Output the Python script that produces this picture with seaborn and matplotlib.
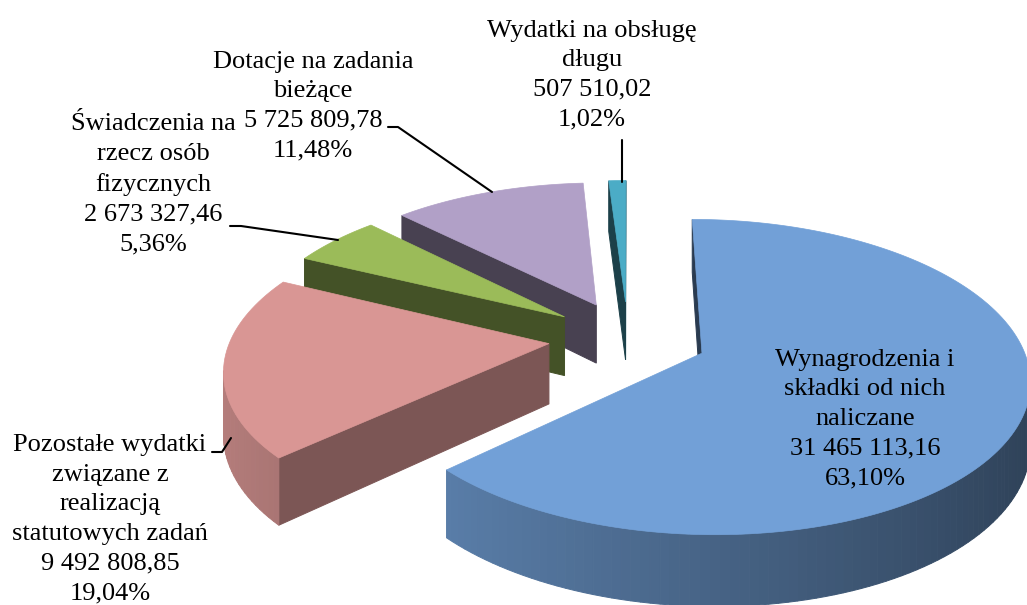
import numpy as np
import matplotlib
matplotlib.use("Agg")
import matplotlib.pyplot as plt
import seaborn as sns
from matplotlib.patches import Polygon
from matplotlib.colors import to_rgb

# dane
categories = [
    "Wynagrodzenia i\nskładki od nich\nnaliczane",
    "Pozostałe wydatki\nzwiązane z\nrealizacją\nstatutowych zadań",
    "Świadczenia na\nrzecz osób\nfizycznych",
    "Dotacje na zadania\nbieżące",
    "Wydatki na obsługę\ndługu",
]
amounts = [31465113.16, 9492808.85, 2673327.46, 5725809.78, 507510.02]
top_colors = ["#72A0D7", "#D99694", "#9BBB59", "#B1A0C7", "#4BACC6"]


def fmt_pl(v):
    return f"{v:,.2f}".replace(",", " ").replace(".", ",")


total = sum(amounts)
percents = [a / total * 100 for a in amounts]

sns.set_theme(style="white")
plt.rcParams["font.family"] = ["Liberation Serif", "DejaVu Serif"]

fig = plt.figure(figsize=(10.27, 6.05), dpi=100)
ax = fig.add_axes([0, 0, 1, 1])

# pie liczy katy i wysuniecie wycinkow, potem rysujemy je w 3D
wedges, _ = ax.pie(amounts, startangle=90, counterclock=False,
                   explode=[0.25] * len(amounts), radius=1)
geom = [(np.array(w.center), w.r, w.theta1, w.theta2) for w in wedges]
for w in wedges:
    w.remove()

# rzut perspektywiczny
CX, CY, R, K, H, D = 628, 338, 318, 0.47, 60, 6.7
cam = np.array([0.0, -D])


def project(p, z):
    g = D / (D + p[1])
    return (CX + R * p[0] * g, CY - R * K * p[1] * g + H * z * g)


def shade(color, f):
    return tuple(np.clip(np.array(to_rgb(color)) * f, 0, 1))


faces = []
tops = []
for (c, r, t1, t2), col in zip(geom, top_colors):
    n = max(3, int((t2 - t1) / 1.5) + 2)
    ang = np.radians(np.linspace(t1, t2, n))
    rim = c + r * np.column_stack([np.cos(ang), np.sin(ang)])
    tops.append(([project(c, 0)] + [project(p, 0) for p in rim], col))

    # sciana zewnetrzna
    for j in range(n - 1):
        m = 0.5 * (ang[j] + ang[j + 1])
        nrm = np.array([np.cos(m), np.sin(m)])
        p = c + r * nrm
        if np.dot(nrm, cam - p) <= 0:
            continue
        quad = [project(rim[j], 0), project(rim[j + 1], 0),
                project(rim[j + 1], 1), project(rim[j], 1)]
        f = 0.62 - 0.22 * np.cos(m)
        faces.append((np.linalg.norm(p - cam), quad, shade(col, f)))

    # sciany przekroju
    for e, nang in [(ang[0], ang[0] - np.pi / 2), (ang[-1], ang[-1] + np.pi / 2)]:
        nrm = np.array([np.cos(nang), np.sin(nang)])
        edge = c + r * np.array([np.cos(e), np.sin(e)])
        p = 0.5 * (c + edge)
        if np.dot(nrm, cam - p) <= 0:
            continue
        quad = [project(c, 0), project(edge, 0), project(edge, 1), project(c, 1)]
        f = 0.49 + 0.12 * np.cos(nang)
        faces.append((np.linalg.norm(p - cam), quad, shade(col, f)))

for _, quad, fc in sorted(faces, key=lambda t: -t[0]):
    ax.add_patch(Polygon(quad, closed=True, facecolor=fc, edgecolor=fc, lw=0.7))
for poly, col in tops:
    ax.add_patch(Polygon(poly, closed=True, facecolor=col, edgecolor=col, lw=0.5))

# etykiety
label_pos = [(865, 419), (110, 519), (153, 184), (313, 106), (592, 75)]
for cat, a, pc, (x, y) in zip(categories, amounts, percents, label_pos):
    ax.text(x, y, f"{cat}\n{fmt_pl(a)}\n{pc:.2f}%".replace(".", ","),
            ha="center", va="center", fontsize=19, linespacing=1.45, color="black")

# linie odniesienia
leaders = [
    [(212, 452), (222, 452), (231, 438)],
    [(230, 226), (241, 226), (338, 240)],
    [(388, 127), (398, 127), (492, 192)],
    [(622, 140), (622, 182)],
]
for pts in leaders:
    xs, ys = zip(*pts)
    ax.plot(xs, ys, color="black", lw=1.5)

ax.set_aspect("auto")
ax.set_xlim(0, 1027)
ax.set_ylim(605, 0)
ax.axis("off")

fig.savefig("out.png", dpi=100)
